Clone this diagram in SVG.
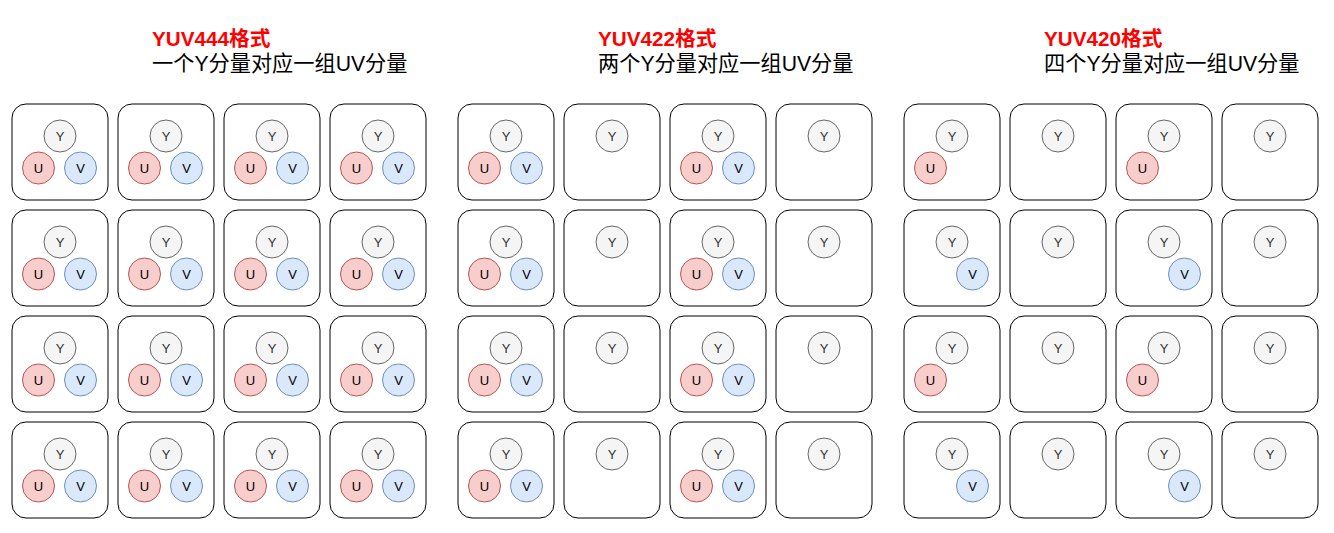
<svg xmlns="http://www.w3.org/2000/svg" width="1334" height="533" viewBox="0 0 1334 533">
<style>
.bg{fill:#ffffff}
.cell{fill:#ffffff;stroke:#000000;stroke-width:1}
.y{fill:#f5f5f5;stroke:#666666;stroke-width:1}
.u{fill:#f8cecc;stroke:#b85450;stroke-width:1}
.v{fill:#dae8fc;stroke:#6c8ebf;stroke-width:1}
.lt{font-family:"Liberation Sans",Arial,sans-serif;font-size:13px;fill:#000000;text-anchor:middle;dominant-baseline:central}
.lty{font-family:"Liberation Sans",Arial,sans-serif;font-size:13px;fill:#333333;text-anchor:middle;dominant-baseline:central}
.title{font-family:"Liberation Sans","Noto Sans CJK SC",sans-serif;font-size:20.7px;font-weight:bold;fill:#ff0000}
.sub{font-family:"Liberation Sans","Noto Sans CJK SC",sans-serif;font-size:21.2px;fill:#000000}
</style>
<rect class="bg" x="0" y="0" width="1334" height="533"/>
<g id="title444"><text class="title" x="152" y="45.5">YUV444格式</text><text class="sub" x="152" y="71">一个Y分量对应一组UV分量</text></g>
<g id="title422"><text class="title" x="598" y="45.5">YUV422格式</text><text class="sub" x="598" y="71">两个Y分量对应一组UV分量</text></g>
<g id="title420"><text class="title" x="1044" y="45.5">YUV420格式</text><text class="sub" x="1044" y="71">四个Y分量对应一组UV分量</text></g>

<g id="a-0-0" transform="translate(12,104)"><rect class="cell" x="0" y="0" width="96" height="96" rx="14"/><circle class="y" cx="48" cy="32" r="16"/><text class="lty" x="48" y="32">Y</text><circle class="u" cx="26.5" cy="64" r="16"/><text class="lt" x="26.5" y="64">U</text><circle class="v" cx="68.5" cy="64" r="16"/><text class="lt" x="68.5" y="64">V</text></g>
<g id="a-0-1" transform="translate(118,104)"><rect class="cell" x="0" y="0" width="96" height="96" rx="14"/><circle class="y" cx="48" cy="32" r="16"/><text class="lty" x="48" y="32">Y</text><circle class="u" cx="26.5" cy="64" r="16"/><text class="lt" x="26.5" y="64">U</text><circle class="v" cx="68.5" cy="64" r="16"/><text class="lt" x="68.5" y="64">V</text></g>
<g id="a-0-2" transform="translate(224,104)"><rect class="cell" x="0" y="0" width="96" height="96" rx="14"/><circle class="y" cx="48" cy="32" r="16"/><text class="lty" x="48" y="32">Y</text><circle class="u" cx="26.5" cy="64" r="16"/><text class="lt" x="26.5" y="64">U</text><circle class="v" cx="68.5" cy="64" r="16"/><text class="lt" x="68.5" y="64">V</text></g>
<g id="a-0-3" transform="translate(330,104)"><rect class="cell" x="0" y="0" width="96" height="96" rx="14"/><circle class="y" cx="48" cy="32" r="16"/><text class="lty" x="48" y="32">Y</text><circle class="u" cx="26.5" cy="64" r="16"/><text class="lt" x="26.5" y="64">U</text><circle class="v" cx="68.5" cy="64" r="16"/><text class="lt" x="68.5" y="64">V</text></g>
<g id="a-1-0" transform="translate(12,210)"><rect class="cell" x="0" y="0" width="96" height="96" rx="14"/><circle class="y" cx="48" cy="32" r="16"/><text class="lty" x="48" y="32">Y</text><circle class="u" cx="26.5" cy="64" r="16"/><text class="lt" x="26.5" y="64">U</text><circle class="v" cx="68.5" cy="64" r="16"/><text class="lt" x="68.5" y="64">V</text></g>
<g id="a-1-1" transform="translate(118,210)"><rect class="cell" x="0" y="0" width="96" height="96" rx="14"/><circle class="y" cx="48" cy="32" r="16"/><text class="lty" x="48" y="32">Y</text><circle class="u" cx="26.5" cy="64" r="16"/><text class="lt" x="26.5" y="64">U</text><circle class="v" cx="68.5" cy="64" r="16"/><text class="lt" x="68.5" y="64">V</text></g>
<g id="a-1-2" transform="translate(224,210)"><rect class="cell" x="0" y="0" width="96" height="96" rx="14"/><circle class="y" cx="48" cy="32" r="16"/><text class="lty" x="48" y="32">Y</text><circle class="u" cx="26.5" cy="64" r="16"/><text class="lt" x="26.5" y="64">U</text><circle class="v" cx="68.5" cy="64" r="16"/><text class="lt" x="68.5" y="64">V</text></g>
<g id="a-1-3" transform="translate(330,210)"><rect class="cell" x="0" y="0" width="96" height="96" rx="14"/><circle class="y" cx="48" cy="32" r="16"/><text class="lty" x="48" y="32">Y</text><circle class="u" cx="26.5" cy="64" r="16"/><text class="lt" x="26.5" y="64">U</text><circle class="v" cx="68.5" cy="64" r="16"/><text class="lt" x="68.5" y="64">V</text></g>
<g id="a-2-0" transform="translate(12,316)"><rect class="cell" x="0" y="0" width="96" height="96" rx="14"/><circle class="y" cx="48" cy="32" r="16"/><text class="lty" x="48" y="32">Y</text><circle class="u" cx="26.5" cy="64" r="16"/><text class="lt" x="26.5" y="64">U</text><circle class="v" cx="68.5" cy="64" r="16"/><text class="lt" x="68.5" y="64">V</text></g>
<g id="a-2-1" transform="translate(118,316)"><rect class="cell" x="0" y="0" width="96" height="96" rx="14"/><circle class="y" cx="48" cy="32" r="16"/><text class="lty" x="48" y="32">Y</text><circle class="u" cx="26.5" cy="64" r="16"/><text class="lt" x="26.5" y="64">U</text><circle class="v" cx="68.5" cy="64" r="16"/><text class="lt" x="68.5" y="64">V</text></g>
<g id="a-2-2" transform="translate(224,316)"><rect class="cell" x="0" y="0" width="96" height="96" rx="14"/><circle class="y" cx="48" cy="32" r="16"/><text class="lty" x="48" y="32">Y</text><circle class="u" cx="26.5" cy="64" r="16"/><text class="lt" x="26.5" y="64">U</text><circle class="v" cx="68.5" cy="64" r="16"/><text class="lt" x="68.5" y="64">V</text></g>
<g id="a-2-3" transform="translate(330,316)"><rect class="cell" x="0" y="0" width="96" height="96" rx="14"/><circle class="y" cx="48" cy="32" r="16"/><text class="lty" x="48" y="32">Y</text><circle class="u" cx="26.5" cy="64" r="16"/><text class="lt" x="26.5" y="64">U</text><circle class="v" cx="68.5" cy="64" r="16"/><text class="lt" x="68.5" y="64">V</text></g>
<g id="a-3-0" transform="translate(12,422)"><rect class="cell" x="0" y="0" width="96" height="96" rx="14"/><circle class="y" cx="48" cy="32" r="16"/><text class="lty" x="48" y="32">Y</text><circle class="u" cx="26.5" cy="64" r="16"/><text class="lt" x="26.5" y="64">U</text><circle class="v" cx="68.5" cy="64" r="16"/><text class="lt" x="68.5" y="64">V</text></g>
<g id="a-3-1" transform="translate(118,422)"><rect class="cell" x="0" y="0" width="96" height="96" rx="14"/><circle class="y" cx="48" cy="32" r="16"/><text class="lty" x="48" y="32">Y</text><circle class="u" cx="26.5" cy="64" r="16"/><text class="lt" x="26.5" y="64">U</text><circle class="v" cx="68.5" cy="64" r="16"/><text class="lt" x="68.5" y="64">V</text></g>
<g id="a-3-2" transform="translate(224,422)"><rect class="cell" x="0" y="0" width="96" height="96" rx="14"/><circle class="y" cx="48" cy="32" r="16"/><text class="lty" x="48" y="32">Y</text><circle class="u" cx="26.5" cy="64" r="16"/><text class="lt" x="26.5" y="64">U</text><circle class="v" cx="68.5" cy="64" r="16"/><text class="lt" x="68.5" y="64">V</text></g>
<g id="a-3-3" transform="translate(330,422)"><rect class="cell" x="0" y="0" width="96" height="96" rx="14"/><circle class="y" cx="48" cy="32" r="16"/><text class="lty" x="48" y="32">Y</text><circle class="u" cx="26.5" cy="64" r="16"/><text class="lt" x="26.5" y="64">U</text><circle class="v" cx="68.5" cy="64" r="16"/><text class="lt" x="68.5" y="64">V</text></g>

<g id="b-0-0" transform="translate(458,104)"><rect class="cell" x="0" y="0" width="96" height="96" rx="14"/><circle class="y" cx="48" cy="32" r="16"/><text class="lty" x="48" y="32">Y</text><circle class="u" cx="26.5" cy="64" r="16"/><text class="lt" x="26.5" y="64">U</text><circle class="v" cx="68.5" cy="64" r="16"/><text class="lt" x="68.5" y="64">V</text></g>
<g id="b-0-1" transform="translate(564,104)"><rect class="cell" x="0" y="0" width="96" height="96" rx="14"/><circle class="y" cx="48" cy="32" r="16"/><text class="lty" x="48" y="32">Y</text></g>
<g id="b-0-2" transform="translate(670,104)"><rect class="cell" x="0" y="0" width="96" height="96" rx="14"/><circle class="y" cx="48" cy="32" r="16"/><text class="lty" x="48" y="32">Y</text><circle class="u" cx="26.5" cy="64" r="16"/><text class="lt" x="26.5" y="64">U</text><circle class="v" cx="68.5" cy="64" r="16"/><text class="lt" x="68.5" y="64">V</text></g>
<g id="b-0-3" transform="translate(776,104)"><rect class="cell" x="0" y="0" width="96" height="96" rx="14"/><circle class="y" cx="48" cy="32" r="16"/><text class="lty" x="48" y="32">Y</text></g>
<g id="b-1-0" transform="translate(458,210)"><rect class="cell" x="0" y="0" width="96" height="96" rx="14"/><circle class="y" cx="48" cy="32" r="16"/><text class="lty" x="48" y="32">Y</text><circle class="u" cx="26.5" cy="64" r="16"/><text class="lt" x="26.5" y="64">U</text><circle class="v" cx="68.5" cy="64" r="16"/><text class="lt" x="68.5" y="64">V</text></g>
<g id="b-1-1" transform="translate(564,210)"><rect class="cell" x="0" y="0" width="96" height="96" rx="14"/><circle class="y" cx="48" cy="32" r="16"/><text class="lty" x="48" y="32">Y</text></g>
<g id="b-1-2" transform="translate(670,210)"><rect class="cell" x="0" y="0" width="96" height="96" rx="14"/><circle class="y" cx="48" cy="32" r="16"/><text class="lty" x="48" y="32">Y</text><circle class="u" cx="26.5" cy="64" r="16"/><text class="lt" x="26.5" y="64">U</text><circle class="v" cx="68.5" cy="64" r="16"/><text class="lt" x="68.5" y="64">V</text></g>
<g id="b-1-3" transform="translate(776,210)"><rect class="cell" x="0" y="0" width="96" height="96" rx="14"/><circle class="y" cx="48" cy="32" r="16"/><text class="lty" x="48" y="32">Y</text></g>
<g id="b-2-0" transform="translate(458,316)"><rect class="cell" x="0" y="0" width="96" height="96" rx="14"/><circle class="y" cx="48" cy="32" r="16"/><text class="lty" x="48" y="32">Y</text><circle class="u" cx="26.5" cy="64" r="16"/><text class="lt" x="26.5" y="64">U</text><circle class="v" cx="68.5" cy="64" r="16"/><text class="lt" x="68.5" y="64">V</text></g>
<g id="b-2-1" transform="translate(564,316)"><rect class="cell" x="0" y="0" width="96" height="96" rx="14"/><circle class="y" cx="48" cy="32" r="16"/><text class="lty" x="48" y="32">Y</text></g>
<g id="b-2-2" transform="translate(670,316)"><rect class="cell" x="0" y="0" width="96" height="96" rx="14"/><circle class="y" cx="48" cy="32" r="16"/><text class="lty" x="48" y="32">Y</text><circle class="u" cx="26.5" cy="64" r="16"/><text class="lt" x="26.5" y="64">U</text><circle class="v" cx="68.5" cy="64" r="16"/><text class="lt" x="68.5" y="64">V</text></g>
<g id="b-2-3" transform="translate(776,316)"><rect class="cell" x="0" y="0" width="96" height="96" rx="14"/><circle class="y" cx="48" cy="32" r="16"/><text class="lty" x="48" y="32">Y</text></g>
<g id="b-3-0" transform="translate(458,422)"><rect class="cell" x="0" y="0" width="96" height="96" rx="14"/><circle class="y" cx="48" cy="32" r="16"/><text class="lty" x="48" y="32">Y</text><circle class="u" cx="26.5" cy="64" r="16"/><text class="lt" x="26.5" y="64">U</text><circle class="v" cx="68.5" cy="64" r="16"/><text class="lt" x="68.5" y="64">V</text></g>
<g id="b-3-1" transform="translate(564,422)"><rect class="cell" x="0" y="0" width="96" height="96" rx="14"/><circle class="y" cx="48" cy="32" r="16"/><text class="lty" x="48" y="32">Y</text></g>
<g id="b-3-2" transform="translate(670,422)"><rect class="cell" x="0" y="0" width="96" height="96" rx="14"/><circle class="y" cx="48" cy="32" r="16"/><text class="lty" x="48" y="32">Y</text><circle class="u" cx="26.5" cy="64" r="16"/><text class="lt" x="26.5" y="64">U</text><circle class="v" cx="68.5" cy="64" r="16"/><text class="lt" x="68.5" y="64">V</text></g>
<g id="b-3-3" transform="translate(776,422)"><rect class="cell" x="0" y="0" width="96" height="96" rx="14"/><circle class="y" cx="48" cy="32" r="16"/><text class="lty" x="48" y="32">Y</text></g>

<g id="c-0-0" transform="translate(904,104)"><rect class="cell" x="0" y="0" width="96" height="96" rx="14"/><circle class="y" cx="48" cy="32" r="16"/><text class="lty" x="48" y="32">Y</text><circle class="u" cx="26.5" cy="64" r="16"/><text class="lt" x="26.5" y="64">U</text></g>
<g id="c-0-1" transform="translate(1010,104)"><rect class="cell" x="0" y="0" width="96" height="96" rx="14"/><circle class="y" cx="48" cy="32" r="16"/><text class="lty" x="48" y="32">Y</text></g>
<g id="c-0-2" transform="translate(1116,104)"><rect class="cell" x="0" y="0" width="96" height="96" rx="14"/><circle class="y" cx="48" cy="32" r="16"/><text class="lty" x="48" y="32">Y</text><circle class="u" cx="26.5" cy="64" r="16"/><text class="lt" x="26.5" y="64">U</text></g>
<g id="c-0-3" transform="translate(1222,104)"><rect class="cell" x="0" y="0" width="96" height="96" rx="14"/><circle class="y" cx="48" cy="32" r="16"/><text class="lty" x="48" y="32">Y</text></g>
<g id="c-1-0" transform="translate(904,210)"><rect class="cell" x="0" y="0" width="96" height="96" rx="14"/><circle class="y" cx="48" cy="32" r="16"/><text class="lty" x="48" y="32">Y</text><circle class="v" cx="68.5" cy="64" r="16"/><text class="lt" x="68.5" y="64">V</text></g>
<g id="c-1-1" transform="translate(1010,210)"><rect class="cell" x="0" y="0" width="96" height="96" rx="14"/><circle class="y" cx="48" cy="32" r="16"/><text class="lty" x="48" y="32">Y</text></g>
<g id="c-1-2" transform="translate(1116,210)"><rect class="cell" x="0" y="0" width="96" height="96" rx="14"/><circle class="y" cx="48" cy="32" r="16"/><text class="lty" x="48" y="32">Y</text><circle class="v" cx="68.5" cy="64" r="16"/><text class="lt" x="68.5" y="64">V</text></g>
<g id="c-1-3" transform="translate(1222,210)"><rect class="cell" x="0" y="0" width="96" height="96" rx="14"/><circle class="y" cx="48" cy="32" r="16"/><text class="lty" x="48" y="32">Y</text></g>
<g id="c-2-0" transform="translate(904,316)"><rect class="cell" x="0" y="0" width="96" height="96" rx="14"/><circle class="y" cx="48" cy="32" r="16"/><text class="lty" x="48" y="32">Y</text><circle class="u" cx="26.5" cy="64" r="16"/><text class="lt" x="26.5" y="64">U</text></g>
<g id="c-2-1" transform="translate(1010,316)"><rect class="cell" x="0" y="0" width="96" height="96" rx="14"/><circle class="y" cx="48" cy="32" r="16"/><text class="lty" x="48" y="32">Y</text></g>
<g id="c-2-2" transform="translate(1116,316)"><rect class="cell" x="0" y="0" width="96" height="96" rx="14"/><circle class="y" cx="48" cy="32" r="16"/><text class="lty" x="48" y="32">Y</text><circle class="u" cx="26.5" cy="64" r="16"/><text class="lt" x="26.5" y="64">U</text></g>
<g id="c-2-3" transform="translate(1222,316)"><rect class="cell" x="0" y="0" width="96" height="96" rx="14"/><circle class="y" cx="48" cy="32" r="16"/><text class="lty" x="48" y="32">Y</text></g>
<g id="c-3-0" transform="translate(904,422)"><rect class="cell" x="0" y="0" width="96" height="96" rx="14"/><circle class="y" cx="48" cy="32" r="16"/><text class="lty" x="48" y="32">Y</text><circle class="v" cx="68.5" cy="64" r="16"/><text class="lt" x="68.5" y="64">V</text></g>
<g id="c-3-1" transform="translate(1010,422)"><rect class="cell" x="0" y="0" width="96" height="96" rx="14"/><circle class="y" cx="48" cy="32" r="16"/><text class="lty" x="48" y="32">Y</text></g>
<g id="c-3-2" transform="translate(1116,422)"><rect class="cell" x="0" y="0" width="96" height="96" rx="14"/><circle class="y" cx="48" cy="32" r="16"/><text class="lty" x="48" y="32">Y</text><circle class="v" cx="68.5" cy="64" r="16"/><text class="lt" x="68.5" y="64">V</text></g>
<g id="c-3-3" transform="translate(1222,422)"><rect class="cell" x="0" y="0" width="96" height="96" rx="14"/><circle class="y" cx="48" cy="32" r="16"/><text class="lty" x="48" y="32">Y</text></g>
<g id="connectors"></g>
</svg>
